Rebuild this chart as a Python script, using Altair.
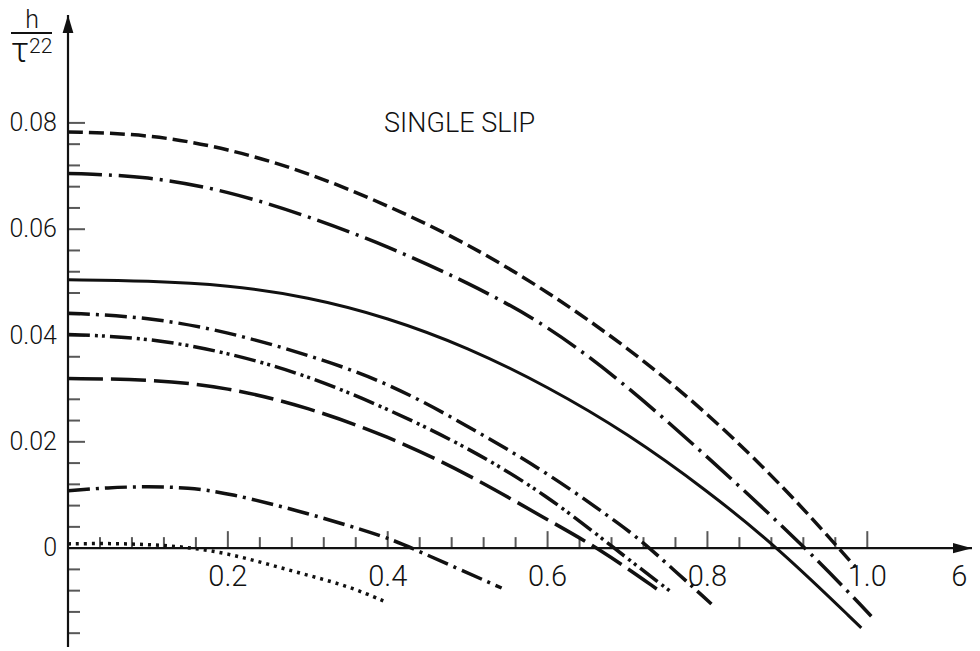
import altair as alt
import pandas as pd

# ---- curves: sigma (x) against h / tau22 (y) ----
x_dashed = [0.0, 0.1, 0.2, 0.3, 0.4, 0.5, 0.6, 0.7, 0.8, 0.9, 0.964, 0.985]
y_dashed = [0.0783, 0.0779, 0.0752, 0.0707, 0.0645, 0.0573, 0.0483, 0.0378, 0.0255, 0.0108, 0.0, -0.0035]

x_longdot = [0.0, 0.1, 0.2, 0.3, 0.4, 0.5, 0.6, 0.7, 0.8, 0.924, 1.005]
y_longdot = [0.0705, 0.0700, 0.0672, 0.0625, 0.0568, 0.0500, 0.0420, 0.0305, 0.0172, 0.0, -0.0128]

x_solid = [0.0, 0.1, 0.2, 0.3, 0.4, 0.5, 0.6, 0.7, 0.8, 0.889, 0.9925]
y_solid = [0.0505, 0.0503, 0.0495, 0.0473, 0.0434, 0.0378, 0.0304, 0.0216, 0.0108, 0.0, -0.0150]

x_dashdot = [0.0, 0.1, 0.2, 0.3, 0.4, 0.5, 0.6, 0.7, 0.728, 0.805]
y_dashdot = [0.0442, 0.0435, 0.0407, 0.0364, 0.0312, 0.0230, 0.0142, 0.0035, 0.0, -0.0105]

x_dashdotdot = [0.0, 0.1, 0.2, 0.3, 0.4, 0.5, 0.6, 0.683, 0.755]
y_dashdotdot = [0.0402, 0.0396, 0.0368, 0.0325, 0.0262, 0.0190, 0.0099, 0.0, -0.0083]

x_longdash = [0.0, 0.1, 0.2, 0.3, 0.4, 0.5, 0.6, 0.664, 0.7425]
y_longdash = [0.0319, 0.0318, 0.0303, 0.0265, 0.0211, 0.0140, 0.0053, 0.0, -0.0083]

x_lowdashdot = [0.0, 0.05, 0.1, 0.15, 0.2, 0.3, 0.4, 0.43, 0.5425]
y_lowdashdot = [0.0108, 0.0114, 0.0116, 0.0114, 0.0104, 0.0066, 0.0020, 0.0, -0.0075]

x_dotted = [0.0, 0.05, 0.1, 0.15, 0.2, 0.25, 0.3, 0.35, 0.3975]
y_dotted = [0.0008, 0.0009, 0.0007, 0.0002, -0.0010, -0.0030, -0.0051, -0.0071, -0.0101]

# ---- axes ----
X_MAX = 1.131
Y_MIN = -0.0186
Y_MAX = 0.1003

x_major_ticks = [0.2, 0.4, 0.6, 0.8, 1.0]
x_minor_ticks = [0.04, 0.08, 0.12, 0.16, 0.24, 0.28, 0.32, 0.36, 0.44, 0.48, 0.52, 0.56,
                 0.64, 0.68, 0.72, 0.76, 0.84, 0.88, 0.92, 0.96]
x_tick_labels = ["0.2", "0.4", "0.6", "0.8", "1.0"]

y_major_ticks = [0.02, 0.04, 0.06, 0.08]
y_minor_ticks = [-0.016, -0.012, -0.008, -0.004, 0.004, 0.008, 0.012, 0.016, 0.024, 0.028,
                 0.032, 0.036, 0.044, 0.048, 0.052, 0.056, 0.064, 0.068, 0.072, 0.076]
y_label_values = [0.0, 0.02, 0.04, 0.06, 0.08]
y_tick_labels = ["0", "0.02", "0.04", "0.06", "0.08"]

FONT = "Roboto"
INK = "#111111"

xs = alt.Scale(domain=[0, X_MAX], nice=False, zero=False)
ys = alt.Scale(domain=[Y_MIN, Y_MAX], nice=False, zero=False)


def X(field="x"):
    return alt.X(f"{field}:Q", scale=xs, axis=None)


def Y(field="y"):
    return alt.Y(f"{field}:Q", scale=ys, axis=None)


curves = [
    (x_dashed, y_dashed, [15, 6]),
    (x_longdot, y_longdot, [34, 7, 3, 7]),
    (x_solid, y_solid, None),
    (x_dashdot, y_dashdot, [22, 6, 3, 6]),
    (x_dashdotdot, y_dashdotdot, [22, 5, 3, 4, 3, 5]),
    (x_longdash, y_longdash, [35, 8]),
    (x_lowdashdot, y_lowdashdot, [22, 6, 3, 6]),
    (x_dotted, y_dotted, [3, 5]),
]

layers = []
for cx, cy, dash in curves:
    df = pd.DataFrame({"x": cx, "y": cy})
    style = dict(color=INK, strokeWidth=3.5, interpolate="basis")
    if dash is not None:
        style["strokeDash"] = dash
    else:
        style["strokeWidth"] = 3.0
    layers.append(alt.Chart(df).mark_line(**style).encode(x=X(), y=Y()))

# axis lines
x_axis_df = pd.DataFrame({"x": [0.0], "x2": [X_MAX], "y": [0.0]})
y_axis_df = pd.DataFrame({"x": [0.0], "y": [Y_MIN], "y2": [Y_MAX]})
layers.append(alt.Chart(x_axis_df).mark_rule(color=INK, strokeWidth=2.2).encode(
    x=X(), x2="x2:Q", y=Y()))
layers.append(alt.Chart(y_axis_df).mark_rule(color=INK, strokeWidth=2.2).encode(
    x=X(), y=Y(), y2="y2:Q"))

# arrow heads at the ends of both axes
arrow_up = "M0,-1L0.6,1L-0.6,1Z"
arrow_right = "M1,0L-1,-0.55L-1,0.55Z"
layers.append(alt.Chart(pd.DataFrame({"x": [0.0], "y": [Y_MAX]})).mark_point(
    shape=arrow_up, filled=True, color=INK, size=324, opacity=1, yOffset=9
).encode(x=X(), y=Y()))
layers.append(alt.Chart(pd.DataFrame({"x": [X_MAX], "y": [0.0]})).mark_point(
    shape=arrow_right, filled=True, color=INK, size=361, opacity=1, xOffset=-9.5
).encode(x=X(), y=Y()))

# ticks on the x axis (pointing up)
layers.append(alt.Chart(pd.DataFrame({"x": x_minor_ticks, "y": 0.0})).mark_tick(
    orient="vertical", color=INK, size=11, thickness=2, yOffset=-5.5
).encode(x=X(), y=Y()))
layers.append(alt.Chart(pd.DataFrame({"x": x_major_ticks, "y": 0.0})).mark_tick(
    orient="vertical", color=INK, size=17, thickness=2, yOffset=-8.5
).encode(x=X(), y=Y()))

# ticks on the y axis (pointing right)
layers.append(alt.Chart(pd.DataFrame({"x": 0.0, "y": y_minor_ticks})).mark_tick(
    orient="horizontal", color=INK, size=12, thickness=2, xOffset=6
).encode(x=X(), y=Y()))
layers.append(alt.Chart(pd.DataFrame({"x": 0.0, "y": y_major_ticks})).mark_tick(
    orient="horizontal", color=INK, size=17, thickness=2, xOffset=8.5
).encode(x=X(), y=Y()))

# tick labels
layers.append(alt.Chart(pd.DataFrame({"x": x_major_ticks, "y": 0.0, "t": x_tick_labels})).mark_text(
    font=FONT, fontWeight=300, fontSize=29, color=INK, align="center", baseline="middle", dy=29
).encode(x=X(), y=Y(), text="t:N"))
layers.append(alt.Chart(pd.DataFrame({"x": 0.0, "y": y_label_values, "t": y_tick_labels})).mark_text(
    font=FONT, fontWeight=300, fontSize=25, color=INK, align="right", baseline="middle", dx=-11
).encode(x=X(), y=Y(), text="t:N"))

# x axis name next to the arrow
layers.append(alt.Chart(pd.DataFrame({"x": [1.115], "y": [0.0], "t": ["6"]})).mark_text(
    font=FONT, fontWeight=300, fontSize=29, color=INK, align="center", baseline="middle", dy=29
).encode(x=X(), y=Y(), text="t:N"))

# y axis name: h over tau^22
top_df = pd.DataFrame({"x": [0.0], "y": [Y_MAX]})
layers.append(alt.Chart(top_df).mark_text(
    text="h", font=FONT, fontWeight=300, fontSize=25, color=INK, align="center",
    baseline="alphabetic", dx=-36, dy=13
).encode(x=X(), y=Y()))
layers.append(alt.Chart(top_df.assign(x2=0.0)).mark_rule(
    color=INK, strokeWidth=1.8, xOffset=-57, x2Offset=-16, yOffset=18
).encode(x=X(), x2="x2:Q", y=Y()))
layers.append(alt.Chart(top_df).mark_text(
    text="τ", font=FONT, fontWeight=300, fontSize=35, color=INK, align="left",
    baseline="alphabetic", dx=-57, dy=47
).encode(x=X(), y=Y()))
layers.append(alt.Chart(top_df).mark_text(
    text="22", font=FONT, fontWeight=300, fontSize=21, color=INK, align="left",
    baseline="alphabetic", dx=-39, dy=38
).encode(x=X(), y=Y()))

# panel title
layers.append(alt.Chart(pd.DataFrame({"x": [0.49], "y": [0.0797], "t": ["SINGLE SLIP"]})).mark_text(
    font=FONT, fontWeight=300, fontSize=27, color=INK, align="center", baseline="middle"
).encode(x=X(), y=Y(), text="t:N"))

chart = alt.layer(*layers).properties(
    width=904,
    height=632,
    padding={"left": 68, "top": 15, "right": 8, "bottom": 4},
    autosize=alt.AutoSizeParams(type="none"),
    background="white",
).configure_view(stroke=None)

chart.save("out.html", embed_options={"renderer": "svg", "actions": False})
